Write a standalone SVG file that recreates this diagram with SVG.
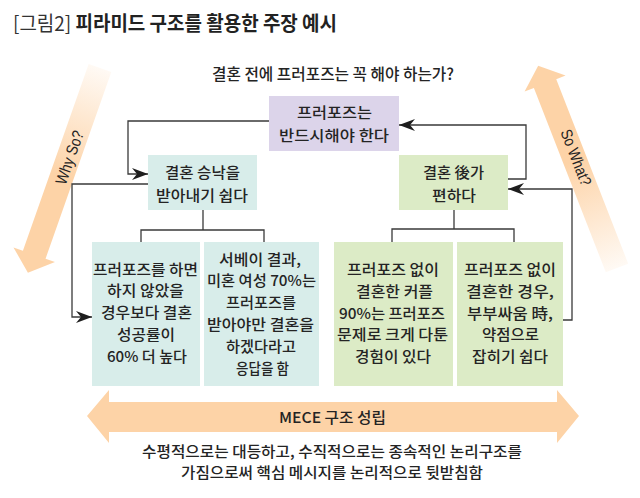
<svg xmlns="http://www.w3.org/2000/svg" width="640" height="498" viewBox="0 0 640 498">
<style>
text{font-family:"Noto Sans CJK KR","Noto Sans",sans-serif;fill:#242424;font-size:15px;font-weight:500}
.c{text-anchor:middle}
.lat{font-family:"Liberation Sans","Noto Sans CJK KR",sans-serif;font-size:16px;font-weight:normal}
.bx{stroke:none}
.purple{fill:#dcd4ea}
.teal{fill:#d8edea}
.green{fill:#dcebc6}
.ln{fill:none;stroke:#3a3a3a;stroke-width:1.3}
.arr{marker-end:url(#ah)}
</style>
<defs>
<marker id="ah" markerUnits="userSpaceOnUse" markerWidth="17" markerHeight="13" viewBox="-17 -6.5 17 13" refX="0" refY="0" orient="auto">
<path d="M0,0 L-16,-6 L-11,0 L-16,6 Z" fill="#1e1e1e"/>
</marker>
<linearGradient id="fade" gradientUnits="userSpaceOnUse" x1="0" y1="0" x2="0" y2="115">
<stop offset="0" stop-color="#fdd3a7" stop-opacity="0.12"/>
<stop offset="1" stop-color="#fdd3a7" stop-opacity="1"/>
</linearGradient>
<path id="diag" d="M-12,0 L12,0 L12,198 L22,198 L0,217 L-22,198 L-12,198 Z" fill="url(#fade)"/>
</defs>

<g id="title">
<text x="13" y="30.5" textLength="324" lengthAdjust="spacingAndGlyphs" style="font-size:20px;font-weight:bold;fill:#222"><tspan style="font-weight:normal;fill:#333">[그림2]</tspan> 피라미드 구조를 활용한 주장 예시</text>
</g>

<g id="why-so">
<use href="#diag" transform="translate(100,68) rotate(19.4)"/>
<text class="c lat" transform="translate(69.5,157.5) rotate(-70.6)" y="5.5" textLength="56" lengthAdjust="spacingAndGlyphs">Why So?</text>
</g>

<g id="so-what">
<use href="#diag" transform="translate(617,268) rotate(158.7)"/>
<text class="c lat" transform="translate(576,157.5) rotate(68.7)" y="5.5" textLength="59" lengthAdjust="spacingAndGlyphs">So What?</text>
</g>

<g id="question">
<text class="c" x="333" y="80" textLength="242" lengthAdjust="spacingAndGlyphs" style="font-size:16px">결혼 전에 프러포즈는 꼭 해야 하는가?</text>
</g>

<g id="connectors">
<polyline class="ln arr" points="269,121 128,121 128,174 148,174"/>
<polyline class="ln arr" points="148,184 72,184 72,317 92,317"/>
<polyline class="ln" points="203,210 203,230"/>
<polyline class="ln" points="141,242 141,230 264,230 264,242"/>
<polyline class="ln arr" points="508,179 526,179 526,125 399,125"/>
<polyline class="ln arr" points="563,320 572,320 572,189 508,189"/>
<polyline class="ln" points="454,210 454,229"/>
<polyline class="ln" points="392,242 392,229 514,229 514,242"/>
</g>

<g id="node-top">
<rect class="bx purple" x="269" y="96" width="130" height="55"/>
<text class="c" x="334.5" y="117.5" textLength="75" lengthAdjust="spacingAndGlyphs">프러포즈는</text>
<text class="c" x="334" y="140.5" textLength="110" lengthAdjust="spacingAndGlyphs">반드시해야 한다</text>
</g>

<g id="node-left">
<rect class="bx teal" x="148" y="155" width="109" height="55"/>
<text class="c" x="202.5" y="177.5" textLength="75" lengthAdjust="spacingAndGlyphs">결혼 승낙을</text>
<text class="c" x="202" y="200.5" textLength="92" lengthAdjust="spacingAndGlyphs">받아내기 쉽다</text>
</g>

<g id="node-right">
<rect class="bx green" x="399" y="155" width="109" height="55"/>
<text class="c" x="453.5" y="177.5" textLength="61" lengthAdjust="spacingAndGlyphs">결혼 後가</text>
<text class="c" x="454" y="200.5" textLength="44" lengthAdjust="spacingAndGlyphs">편하다</text>
</g>

<g id="node-l1">
<rect class="bx teal" x="92" y="242" width="108" height="144"/>
<text class="c" x="145.5" y="274.5" textLength="105" lengthAdjust="spacingAndGlyphs">프러포즈를 하면</text>
<text class="c" x="145.5" y="296.3" textLength="77" lengthAdjust="spacingAndGlyphs">하지 않았을</text>
<text class="c" x="146.5" y="318.1" textLength="91" lengthAdjust="spacingAndGlyphs">경우보다 결혼</text>
<text class="c" x="146" y="339.9" textLength="58" lengthAdjust="spacingAndGlyphs">성공률이</text>
<text class="c" x="147" y="361.7" textLength="80" lengthAdjust="spacingAndGlyphs">60% 더 높다</text>
</g>

<g id="node-l2">
<rect class="bx teal" x="204" y="242" width="115" height="144"/>
<text class="c" x="260" y="264.5" textLength="82" lengthAdjust="spacingAndGlyphs">서베이 결과,</text>
<text class="c" x="261.5" y="286.3" textLength="109" lengthAdjust="spacingAndGlyphs">미혼 여성 70%는</text>
<text class="c" x="261" y="308.1" textLength="70" lengthAdjust="spacingAndGlyphs">프러포즈를</text>
<text class="c" x="260.5" y="329.9" textLength="107" lengthAdjust="spacingAndGlyphs">받아야만 결혼을</text>
<text class="c" x="261" y="351.7" textLength="70" lengthAdjust="spacingAndGlyphs">하겠다라고</text>
<text class="c" x="262.5" y="373.5" textLength="53" lengthAdjust="spacingAndGlyphs">응답을 함</text>
</g>

<g id="node-r1">
<rect class="bx green" x="334" y="242" width="119" height="144"/>
<text class="c" x="393" y="275" textLength="92" lengthAdjust="spacingAndGlyphs">프러포즈 없이</text>
<text class="c" x="394.5" y="296.8" textLength="77" lengthAdjust="spacingAndGlyphs">결혼한 커플</text>
<text class="c" x="392" y="318.6" textLength="106" lengthAdjust="spacingAndGlyphs">90%는 프러포즈</text>
<text class="c" x="392.5" y="340.4" textLength="111" lengthAdjust="spacingAndGlyphs">문제로 크게 다툰</text>
<text class="c" x="393" y="362.2" textLength="76" lengthAdjust="spacingAndGlyphs">경험이 있다</text>
</g>

<g id="node-r2">
<rect class="bx green" x="457" y="242" width="106" height="144"/>
<text class="c" x="510" y="275" textLength="92" lengthAdjust="spacingAndGlyphs">프러포즈 없이</text>
<text class="c" x="510" y="296.8" textLength="88" lengthAdjust="spacingAndGlyphs">결혼한 경우,</text>
<text class="c" x="510" y="318.6" textLength="86" lengthAdjust="spacingAndGlyphs">부부싸움 時,</text>
<text class="c" x="510.5" y="340.4" textLength="57" lengthAdjust="spacingAndGlyphs">약점으로</text>
<text class="c" x="510" y="362.2" textLength="76" lengthAdjust="spacingAndGlyphs">잡히기 쉽다</text>
</g>

<g id="mece">
<polygon points="87,416 109,390 109,402 557,402 557,390 579,416 557,443 557,432 109,432 109,443" fill="#fdd3a7"/>
<text class="c" x="332.5" y="422.5" textLength="107" lengthAdjust="spacingAndGlyphs">MECE 구조 성립</text>
</g>

<g id="summary">
<text class="c" x="332" y="457.2" textLength="380" lengthAdjust="spacingAndGlyphs" style="font-size:14.5px">수평적으로는 대등하고, 수직적으로는 종속적인 논리구조를</text>
<text class="c" x="332" y="478.3" textLength="302" lengthAdjust="spacingAndGlyphs" style="font-size:14.5px">가짐으로써 핵심 메시지를 논리적으로 뒷받침함</text>
</g>
</svg>
